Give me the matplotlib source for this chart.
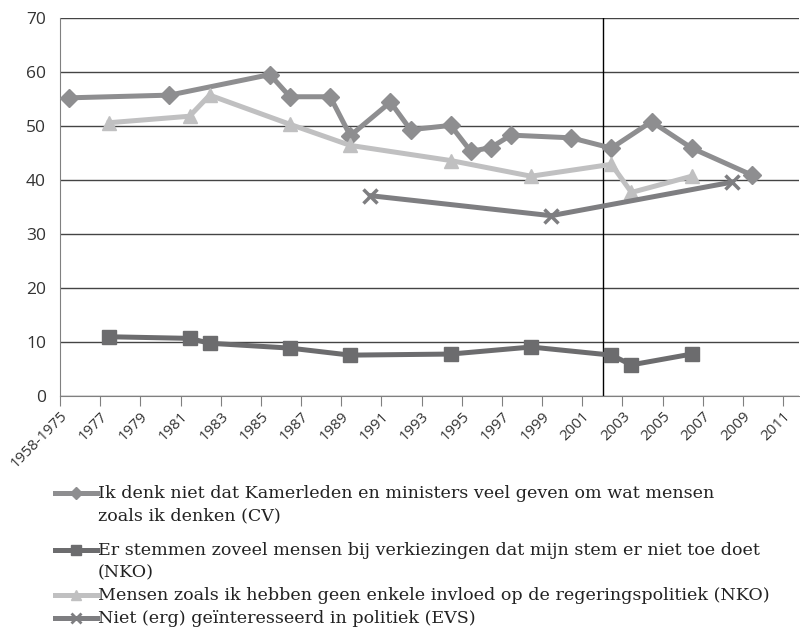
import matplotlib.pyplot as plt
from matplotlib.lines import Line2D
import numpy as np

# survey years (points are drawn mid-year)
cv_years = [1975, 1980, 1985, 1986, 1988, 1989, 1991, 1992, 1994, 1995, 1996, 1997, 2000, 2002, 2004, 2006, 2009]
cv_vals = [55.2, 55.7, 59.5, 55.4, 55.4, 48.2, 54.4, 49.3, 50.1, 45.3, 46.0, 48.3, 47.8, 45.9, 50.8, 45.9, 40.9]

nko_years = [1977, 1981, 1982, 1986, 1989, 1994, 1998, 2002, 2003, 2006]
stem_vals = [11.0, 10.7, 9.8, 8.9, 7.6, 7.8, 9.1, 7.6, 5.8, 7.8]
invloed_vals = [50.6, 51.8, 55.7, 50.3, 46.4, 43.6, 40.7, 42.9, 37.7, 40.7]

evs_years = [1990, 1999, 2008]
evs_vals = [37.1, 33.4, 39.6]

tick_years = list(range(1975, 2012, 2))
tick_labels = ['1958-1975'] + [str(y) for y in tick_years[1:]]
ref_year = 2002

labels = ['Ik denk niet dat Kamerleden en ministers veel geven om wat mensen\nzoals ik denken (CV)',
          'Er stemmen zoveel mensen bij verkiezingen dat mijn stem er niet toe doet\n(NKO)',
          'Mensen zoals ik hebben geen enkele invloed op de regeringspolitiek (NKO)',
          'Niet (erg) geïnteresseerd in politiek (EVS)']

W, H = 800, 637
fig = plt.figure(figsize=(W / 100, H / 100), dpi=100)
ax = fig.add_axes([0.075, 0.378, 0.924, 0.594])

off = 0.45
lw = 3.6
styles = [dict(color='#8e8e90', marker='D', ms=9),
          dict(color='#6c6c6e', marker='s', ms=10),
          dict(color='#c0c0c1', marker='^', ms=10),
          dict(color='#7e7e81', marker='x', ms=10, mew=2.5)]

ax.plot(np.array(cv_years) + off, cv_vals, lw=lw, zorder=3, **styles[0])
ax.plot(np.array(nko_years) + off, stem_vals, lw=lw, zorder=3, **styles[1])
ax.plot(np.array(nko_years) + off, invloed_vals, lw=lw, zorder=3, **styles[2])
ax.plot(np.array(evs_years) + off, evs_vals, lw=lw, zorder=3, **styles[3])

ax.axvline(ref_year + 0.05, color='black', lw=1, zorder=2)

ax.set_xlim(1975, 2011.8)
ax.set_ylim(0, 70)
ax.set_yticks(range(0, 71, 10))
ax.set_xticks(tick_years)
ax.set_xticklabels(tick_labels, rotation=45, ha='right', rotation_mode='anchor', fontsize=10.8, family='Open Sans')
for t in ax.get_yticklabels():
    t.set_fontsize(12.5)
    t.set_family('Open Sans')
ax.yaxis.grid(True, color='#444444', lw=1)
ax.set_axisbelow(True)
for s in ['top', 'right']:
    ax.spines[s].set_visible(False)
ax.spines['left'].set_color('#808080')
ax.spines['bottom'].set_color('#808080')
ax.tick_params(axis='y', length=0, pad=10, colors='#333333')
ax.tick_params(axis='x', length=7, color='#808080', colors='#333333', pad=2)

# legend drawn by hand so the key sits on the first line of wrapped labels
leg_rows = [493, 550, 595, 618]
for i, lab in enumerate(labels):
    fy = 1 - leg_rows[i] / H
    st = dict(styles[i])
    st['ms'] = st['ms'] * 0.7
    if 'mew' in st:
        st['mew'] = 2
    fig.add_artist(Line2D([55 / W, 97 / W], [fy, fy], lw=lw, color=st['color']))
    fig.add_artist(Line2D([76 / W], [fy], lw=0, **st))
    fig.text(98 / W, fy + 8 / H, lab, va='top', ha='left', family='DejaVu Serif',
             fontsize=12.6, color='#222222', linespacing=1.4)

fig.savefig('out.png', dpi=100)
